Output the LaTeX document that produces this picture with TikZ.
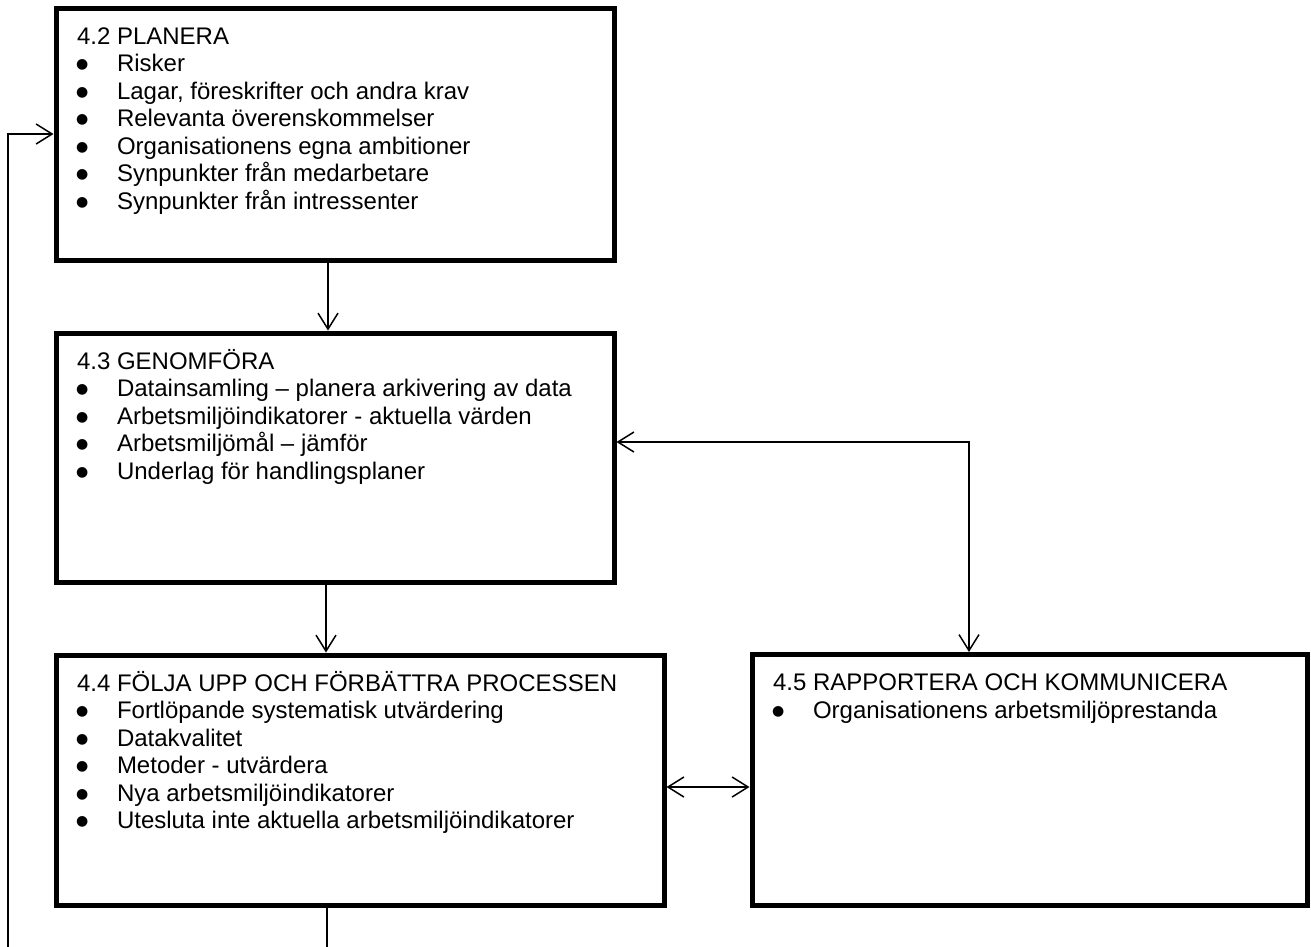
\documentclass[tikz,border=0pt]{standalone}
\usepackage{fontspec}
\setmainfont{Liberation Sans}
\newfontfamily\djv{DejaVu Sans}
\usepackage{tikz}
\usetikzlibrary{arrows.meta,positioning}

\newcommand{\punkt}{\makebox[40pt][l]{\hspace*{-1pt}\raisebox{3pt}{\djv\fontsize{14}{14}\selectfont ●}}}
\newcommand{\rubrik}[1]{\rule{0pt}{20pt}#1}

\begin{document}
\begin{tikzpicture}[x=1pt, y=-1pt, >={Straight Barb[length=16pt,width=20pt]},
  box/.style={draw, line width=5pt, rectangle, anchor=north west,
    inner xsep=21pt, inner ysep=16pt, font=\fontsize{24}{27.5}\selectfont},
  pil/.style={line width=1.5pt}]
  \useasboundingbox (0,0) rectangle (1311,946);

  \node[box] (plan) at (53.5,5.5) {\begin{minipage}[c][220pt][t]{516pt}\raggedright
    \rubrik{4.2 PLANERA}\\
    \punkt Risker\\
    \punkt Lagar, föreskrifter och andra krav\\
    \punkt Relevanta överenskommelser\\
    \punkt Organisationens egna ambitioner\\
    \punkt Synpunkter från medarbetare\\
    \punkt Synpunkter från intressenter
  \end{minipage}};

  \node[box, below=68pt of plan] (genom) {\begin{minipage}[c][217pt][t]{516pt}\raggedright
    \rubrik{4.3 GENOMFÖRA}\\
    \punkt Datainsamling – planera arkivering av data\\
    \punkt Arbetsmiljöindikatorer - aktuella värden\\
    \punkt Arbetsmiljömål – jämför\\
    \punkt Underlag för handlingsplaner
  \end{minipage}};

  \node[box, below=68pt of genom.south west, anchor=north west] (folja) {\begin{minipage}[c][218pt][t]{566pt}\raggedright
    \rubrik{4.4 FÖLJA UPP OCH FÖRBÄTTRA PROCESSEN}\\
    \punkt Fortlöpande systematisk utvärdering\\
    \punkt Datakvalitet\\
    \punkt Metoder - utvärdera\\
    \punkt Nya arbetsmiljöindikatorer\\
    \punkt Utesluta inte aktuella arbetsmiljöindikatorer
  \end{minipage}};

  \node[box, right=83pt of folja] (rapp) {\begin{minipage}[c][219pt][t]{513pt}\raggedright
    \rubrik{4.5 RAPPORTERA OCH KOMMUNICERA}\\
    \punkt Organisationens arbetsmiljöprestanda
  \end{minipage}};

  % loop back to planning
  \coordinate (ned) at (327,950);
  \coordinate (vanster) at (8,950);

  \draw[pil, ->] ([xshift=-7pt]plan.south) -- ([xshift=-7pt]genom.north);
  \draw[pil, ->] ([xshift=-9pt]genom.south) -- ([xshift=-34pt]folja.north);
  \draw[pil, <->] ([yshift=15.5pt]genom.east) -| ([xshift=-60.5pt]rapp.north);
  \draw[pil, <->] ([yshift=-7pt]folja.east) -- ([yshift=-7pt]folja.east -| rapp.west);
  \draw[pil] ([xshift=-33pt]folja.south) -- (ned);
  \draw[pil, ->] (vanster) |- (plan.west);
\end{tikzpicture}
\end{document}
